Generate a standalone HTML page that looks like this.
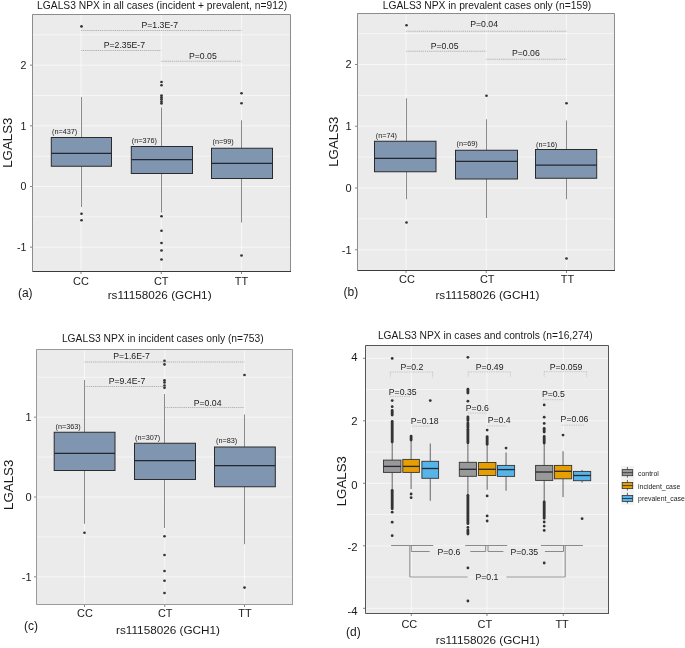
<!DOCTYPE html><html><head><meta charset="utf-8"><style>html,body{margin:0;padding:0;background:#fff;}svg{display:block;will-change:transform;}text{font-family:"Liberation Sans", sans-serif;}</style></head><body>
<svg width="685" height="648" viewBox="0 0 685 648">
<rect width="685" height="648" fill="#fff"/>
<rect x="32" y="14" width="258" height="257" fill="#EBEBEB"/>
<line x1="32" y1="216.84" x2="290" y2="216.84" stroke="#FFFFFF" stroke-width="1.0" stroke-opacity="0.55"/>
<line x1="32" y1="156.16" x2="290" y2="156.16" stroke="#FFFFFF" stroke-width="1.0" stroke-opacity="0.55"/>
<line x1="32" y1="95.5" x2="290" y2="95.5" stroke="#FFFFFF" stroke-width="1.0" stroke-opacity="0.55"/>
<line x1="32" y1="34.82" x2="290" y2="34.82" stroke="#FFFFFF" stroke-width="1.0" stroke-opacity="0.55"/>
<line x1="32" y1="247.17" x2="290" y2="247.17" stroke="#FFFFFF" stroke-width="1.0" stroke-opacity="0.6"/>
<line x1="32" y1="186.5" x2="290" y2="186.5" stroke="#FFFFFF" stroke-width="1.0" stroke-opacity="0.6"/>
<line x1="32" y1="125.83" x2="290" y2="125.83" stroke="#FFFFFF" stroke-width="1.0" stroke-opacity="0.6"/>
<line x1="32" y1="65.16" x2="290" y2="65.16" stroke="#FFFFFF" stroke-width="1.0" stroke-opacity="0.6"/>
<line x1="81" y1="14" x2="81" y2="271" stroke="#FFFFFF" stroke-width="1.0" stroke-opacity="0.6"/>
<line x1="161.25" y1="14" x2="161.25" y2="271" stroke="#FFFFFF" stroke-width="1.0" stroke-opacity="0.6"/>
<line x1="241.5" y1="14" x2="241.5" y2="271" stroke="#FFFFFF" stroke-width="1.0" stroke-opacity="0.6"/>
<line x1="32.5" y1="14.5" x2="290.5" y2="14.5" stroke="#8c8c8c" stroke-width="1" />
<line x1="32.5" y1="14.5" x2="32.5" y2="271.5" stroke="#8c8c8c" stroke-width="1" />
<line x1="290.5" y1="14.5" x2="290.5" y2="271.5" stroke="#8c8c8c" stroke-width="1" />
<line x1="32.5" y1="271.5" x2="291" y2="271.5" stroke="#3a3a3a" stroke-width="1" />
<line x1="30" y1="247.17" x2="32" y2="247.17" stroke="#666" stroke-width="0.8" />
<text x="26.3" y="251.07" font-size="10.6" text-anchor="end" fill="#1a1a1a" >-1</text>
<line x1="30" y1="186.5" x2="32" y2="186.5" stroke="#666" stroke-width="0.8" />
<text x="26.3" y="190.4" font-size="10.6" text-anchor="end" fill="#1a1a1a" >0</text>
<line x1="30" y1="125.83" x2="32" y2="125.83" stroke="#666" stroke-width="0.8" />
<text x="26.3" y="129.73" font-size="10.6" text-anchor="end" fill="#1a1a1a" >1</text>
<line x1="30" y1="65.16" x2="32" y2="65.16" stroke="#666" stroke-width="0.8" />
<text x="26.3" y="69.06" font-size="10.6" text-anchor="end" fill="#1a1a1a" >2</text>
<line x1="81" y1="272" x2="81" y2="274" stroke="#666" stroke-width="0.8" />
<line x1="161.25" y1="272" x2="161.25" y2="274" stroke="#666" stroke-width="0.8" />
<line x1="241.5" y1="272" x2="241.5" y2="274" stroke="#666" stroke-width="0.8" />
<line x1="81.5" y1="97" x2="81.5" y2="137.5" stroke="#8a8a8a" stroke-width="1.0" />
<line x1="81.5" y1="166.25" x2="81.5" y2="207" stroke="#8a8a8a" stroke-width="1.0" />
<rect x="51.3" y="137.5" width="60.2" height="28.75" fill="#8096B0" stroke="#2b2b2b" stroke-width="1"/>
<line x1="51.3" y1="153.25" x2="111.5" y2="153.25" stroke="#23272f" stroke-width="1.25" />
<circle cx="81.5" cy="26.4" r="1.35" fill="#333333"/>
<circle cx="81.5" cy="213.75" r="1.35" fill="#333333"/>
<circle cx="81.5" cy="220.25" r="1.35" fill="#333333"/>
<line x1="161.5" y1="107.5" x2="161.5" y2="146.5" stroke="#8a8a8a" stroke-width="1.0" />
<line x1="161.5" y1="173.5" x2="161.5" y2="212.5" stroke="#8a8a8a" stroke-width="1.0" />
<rect x="131.3" y="146.5" width="61.2" height="27" fill="#8096B0" stroke="#2b2b2b" stroke-width="1"/>
<line x1="131.3" y1="159.5" x2="192.5" y2="159.5" stroke="#23272f" stroke-width="1.25" />
<circle cx="161.5" cy="82" r="1.35" fill="#333333"/>
<circle cx="161.5" cy="85.25" r="1.35" fill="#333333"/>
<circle cx="161.5" cy="95.5" r="1.35" fill="#333333"/>
<circle cx="161.5" cy="97.4" r="1.35" fill="#333333"/>
<circle cx="161.5" cy="99.3" r="1.35" fill="#333333"/>
<circle cx="161.5" cy="101.5" r="1.35" fill="#333333"/>
<circle cx="161.5" cy="103.4" r="1.35" fill="#333333"/>
<circle cx="161.5" cy="216.25" r="1.35" fill="#333333"/>
<circle cx="161.5" cy="230.75" r="1.35" fill="#333333"/>
<circle cx="161.5" cy="243" r="1.35" fill="#333333"/>
<circle cx="161.5" cy="250.5" r="1.35" fill="#333333"/>
<circle cx="161.5" cy="259.5" r="1.35" fill="#333333"/>
<line x1="241.5" y1="120.25" x2="241.5" y2="148.25" stroke="#8a8a8a" stroke-width="1.0" />
<line x1="241.5" y1="178.5" x2="241.5" y2="222.5" stroke="#8a8a8a" stroke-width="1.0" />
<rect x="211.5" y="148.25" width="61" height="30.25" fill="#8096B0" stroke="#2b2b2b" stroke-width="1"/>
<line x1="211.5" y1="163.25" x2="272.5" y2="163.25" stroke="#23272f" stroke-width="1.25" />
<circle cx="241.5" cy="93.25" r="1.35" fill="#333333"/>
<circle cx="241.5" cy="103.25" r="1.35" fill="#333333"/>
<circle cx="241.5" cy="255.5" r="1.35" fill="#333333"/>
<line x1="81" y1="30.5" x2="241.5" y2="30.5" stroke="#adadad" stroke-width="0.9" stroke-dasharray="1.3 0.8"/>
<line x1="81" y1="50.5" x2="161.25" y2="50.5" stroke="#adadad" stroke-width="0.9" stroke-dasharray="1.3 0.8"/>
<line x1="161.25" y1="61.25" x2="241.5" y2="61.25" stroke="#adadad" stroke-width="0.9" stroke-dasharray="1.3 0.8"/>
<text x="141.5" y="27.5" font-size="8.7" text-anchor="start" fill="#1a1a1a" >P=1.3E-7</text>
<text x="103.75" y="47.5" font-size="8.7" text-anchor="start" fill="#1a1a1a" >P=2.35E-7</text>
<text x="189" y="58.5" font-size="8.7" text-anchor="start" fill="#1a1a1a" >P=0.05</text>
<text x="52" y="133.6" font-size="7.27" text-anchor="start" fill="#1a1a1a" >(n=437)</text>
<text x="131.75" y="142.7" font-size="7.27" text-anchor="start" fill="#1a1a1a" >(n=376)</text>
<text x="212.5" y="144.1" font-size="7.27" text-anchor="start" fill="#1a1a1a" >(n=99)</text>
<text x="162.1" y="8.8" font-size="10.27" text-anchor="middle" fill="#1a1a1a" >LGALS3 NPX in all cases (incident + prevalent, n=912)</text>
<text x="81" y="284.9" font-size="10.94" text-anchor="middle" fill="#1a1a1a" >CC</text>
<text x="161.25" y="284.9" font-size="10.94" text-anchor="middle" fill="#1a1a1a" >CT</text>
<text x="241.5" y="284.9" font-size="10.94" text-anchor="middle" fill="#1a1a1a" >TT</text>
<text x="159.6" y="298.9" font-size="11.74" text-anchor="middle" fill="#1a1a1a" >rs11158026 (GCH1)</text>
<text x="17.9" y="297.4" font-size="12" text-anchor="start" fill="#1a1a1a" >(a)</text>
<text x="12.1" y="142.7" font-size="13.3" text-anchor="middle" fill="#1a1a1a" transform="rotate(-90 12.1 142.7)">LGALS3</text>
<rect x="357" y="13" width="257" height="257" fill="#EBEBEB"/>
<line x1="357" y1="218.88" x2="614" y2="218.88" stroke="#FFFFFF" stroke-width="1.0" stroke-opacity="0.55"/>
<line x1="357" y1="157.12" x2="614" y2="157.12" stroke="#FFFFFF" stroke-width="1.0" stroke-opacity="0.55"/>
<line x1="357" y1="95.38" x2="614" y2="95.38" stroke="#FFFFFF" stroke-width="1.0" stroke-opacity="0.55"/>
<line x1="357" y1="33.62" x2="614" y2="33.62" stroke="#FFFFFF" stroke-width="1.0" stroke-opacity="0.55"/>
<line x1="357" y1="249.75" x2="614" y2="249.75" stroke="#FFFFFF" stroke-width="1.0" stroke-opacity="0.6"/>
<line x1="357" y1="188" x2="614" y2="188" stroke="#FFFFFF" stroke-width="1.0" stroke-opacity="0.6"/>
<line x1="357" y1="126.25" x2="614" y2="126.25" stroke="#FFFFFF" stroke-width="1.0" stroke-opacity="0.6"/>
<line x1="357" y1="64.5" x2="614" y2="64.5" stroke="#FFFFFF" stroke-width="1.0" stroke-opacity="0.6"/>
<line x1="406" y1="13" x2="406" y2="270" stroke="#FFFFFF" stroke-width="1.0" stroke-opacity="0.6"/>
<line x1="486.25" y1="13" x2="486.25" y2="270" stroke="#FFFFFF" stroke-width="1.0" stroke-opacity="0.6"/>
<line x1="566.5" y1="13" x2="566.5" y2="270" stroke="#FFFFFF" stroke-width="1.0" stroke-opacity="0.6"/>
<line x1="357.5" y1="13.5" x2="614.5" y2="13.5" stroke="#8c8c8c" stroke-width="1" />
<line x1="357.5" y1="13.5" x2="357.5" y2="270.5" stroke="#8c8c8c" stroke-width="1" />
<line x1="614.5" y1="13.5" x2="614.5" y2="270.5" stroke="#8c8c8c" stroke-width="1" />
<line x1="357.5" y1="270.5" x2="615" y2="270.5" stroke="#3a3a3a" stroke-width="1" />
<line x1="355" y1="249.75" x2="357" y2="249.75" stroke="#666" stroke-width="0.8" />
<text x="351.5" y="253.65" font-size="11" text-anchor="end" fill="#1a1a1a" >-1</text>
<line x1="355" y1="188" x2="357" y2="188" stroke="#666" stroke-width="0.8" />
<text x="351.5" y="191.9" font-size="11" text-anchor="end" fill="#1a1a1a" >0</text>
<line x1="355" y1="126.25" x2="357" y2="126.25" stroke="#666" stroke-width="0.8" />
<text x="351.5" y="130.15" font-size="11" text-anchor="end" fill="#1a1a1a" >1</text>
<line x1="355" y1="64.5" x2="357" y2="64.5" stroke="#666" stroke-width="0.8" />
<text x="351.5" y="68.4" font-size="11" text-anchor="end" fill="#1a1a1a" >2</text>
<line x1="406" y1="271" x2="406" y2="273" stroke="#666" stroke-width="0.8" />
<line x1="486.25" y1="271" x2="486.25" y2="273" stroke="#666" stroke-width="0.8" />
<line x1="566.5" y1="271" x2="566.5" y2="273" stroke="#666" stroke-width="0.8" />
<line x1="406.5" y1="98.25" x2="406.5" y2="141.25" stroke="#8a8a8a" stroke-width="1.0" />
<line x1="406.5" y1="171.75" x2="406.5" y2="199.25" stroke="#8a8a8a" stroke-width="1.0" />
<rect x="374.5" y="141.25" width="61.5" height="30.5" fill="#8096B0" stroke="#2b2b2b" stroke-width="1"/>
<line x1="374.5" y1="158.25" x2="436" y2="158.25" stroke="#23272f" stroke-width="1.25" />
<circle cx="406.5" cy="25.25" r="1.35" fill="#333333"/>
<circle cx="406.5" cy="222.5" r="1.35" fill="#333333"/>
<line x1="486.5" y1="119.25" x2="486.5" y2="150.25" stroke="#8a8a8a" stroke-width="1.0" />
<line x1="486.5" y1="179" x2="486.5" y2="218" stroke="#8a8a8a" stroke-width="1.0" />
<rect x="455.5" y="150.25" width="62" height="28.75" fill="#8096B0" stroke="#2b2b2b" stroke-width="1"/>
<line x1="455.5" y1="161.25" x2="517.5" y2="161.25" stroke="#23272f" stroke-width="1.25" />
<circle cx="486.5" cy="95.75" r="1.35" fill="#333333"/>
<line x1="566.5" y1="120.5" x2="566.5" y2="149.5" stroke="#8a8a8a" stroke-width="1.0" />
<line x1="566.5" y1="178.25" x2="566.5" y2="199.25" stroke="#8a8a8a" stroke-width="1.0" />
<rect x="535.5" y="149.5" width="61.2" height="28.75" fill="#8096B0" stroke="#2b2b2b" stroke-width="1"/>
<line x1="535.5" y1="165" x2="596.7" y2="165" stroke="#23272f" stroke-width="1.25" />
<circle cx="566.5" cy="103.25" r="1.35" fill="#333333"/>
<circle cx="566.5" cy="258.5" r="1.35" fill="#333333"/>
<line x1="406" y1="31.25" x2="566.5" y2="31.25" stroke="#adadad" stroke-width="0.9" stroke-dasharray="1.3 0.8"/>
<line x1="406" y1="51.25" x2="486.25" y2="51.25" stroke="#adadad" stroke-width="0.9" stroke-dasharray="1.3 0.8"/>
<line x1="486.25" y1="59.25" x2="566.5" y2="59.25" stroke="#adadad" stroke-width="0.9" stroke-dasharray="1.3 0.8"/>
<text x="470.25" y="27.2" font-size="8.7" text-anchor="start" fill="#1a1a1a" >P=0.04</text>
<text x="430.75" y="49.4" font-size="8.7" text-anchor="start" fill="#1a1a1a" >P=0.05</text>
<text x="512" y="56.4" font-size="8.7" text-anchor="start" fill="#1a1a1a" >P=0.06</text>
<text x="375.75" y="138.4" font-size="7.27" text-anchor="start" fill="#1a1a1a" >(n=74)</text>
<text x="456.5" y="146.1" font-size="7.27" text-anchor="start" fill="#1a1a1a" >(n=69)</text>
<text x="536" y="146.6" font-size="7.27" text-anchor="start" fill="#1a1a1a" >(n=16)</text>
<text x="487" y="8.9" font-size="10.27" text-anchor="middle" fill="#1a1a1a" >LGALS3 NPX in prevalent cases only (n=159)</text>
<text x="407" y="283.4" font-size="10.94" text-anchor="middle" fill="#1a1a1a" >CC</text>
<text x="487.25" y="283.4" font-size="10.94" text-anchor="middle" fill="#1a1a1a" >CT</text>
<text x="567.5" y="283.4" font-size="10.94" text-anchor="middle" fill="#1a1a1a" >TT</text>
<text x="487.4" y="299.3" font-size="11.74" text-anchor="middle" fill="#1a1a1a" >rs11158026 (GCH1)</text>
<text x="343.6" y="296" font-size="12" text-anchor="start" fill="#1a1a1a" >(b)</text>
<text x="337.8" y="141.7" font-size="13.3" text-anchor="middle" fill="#1a1a1a" transform="rotate(-90 337.8 141.7)">LGALS3</text>
<rect x="36" y="349" width="256" height="255" fill="#EBEBEB"/>
<line x1="36" y1="536.92" x2="292" y2="536.92" stroke="#FFFFFF" stroke-width="1.0" stroke-opacity="0.55"/>
<line x1="36" y1="457.07" x2="292" y2="457.07" stroke="#FFFFFF" stroke-width="1.0" stroke-opacity="0.55"/>
<line x1="36" y1="377.23" x2="292" y2="377.23" stroke="#FFFFFF" stroke-width="1.0" stroke-opacity="0.55"/>
<line x1="36" y1="576.85" x2="292" y2="576.85" stroke="#FFFFFF" stroke-width="1.0" stroke-opacity="0.6"/>
<line x1="36" y1="497" x2="292" y2="497" stroke="#FFFFFF" stroke-width="1.0" stroke-opacity="0.6"/>
<line x1="36" y1="417.15" x2="292" y2="417.15" stroke="#FFFFFF" stroke-width="1.0" stroke-opacity="0.6"/>
<line x1="84.5" y1="349" x2="84.5" y2="604" stroke="#FFFFFF" stroke-width="1.0" stroke-opacity="0.6"/>
<line x1="164.75" y1="349" x2="164.75" y2="604" stroke="#FFFFFF" stroke-width="1.0" stroke-opacity="0.6"/>
<line x1="244.5" y1="349" x2="244.5" y2="604" stroke="#FFFFFF" stroke-width="1.0" stroke-opacity="0.6"/>
<line x1="36.5" y1="349.5" x2="292.5" y2="349.5" stroke="#9a9a9a" stroke-width="1" />
<line x1="36.5" y1="349.5" x2="36.5" y2="604.5" stroke="#9a9a9a" stroke-width="1" />
<line x1="292.5" y1="349.5" x2="292.5" y2="604.5" stroke="#9a9a9a" stroke-width="1" />
<line x1="36.5" y1="604.5" x2="293" y2="604.5" stroke="#9a9a9a" stroke-width="1" />
<line x1="34" y1="576.85" x2="36" y2="576.85" stroke="#666" stroke-width="0.8" />
<text x="31.5" y="580.75" font-size="11" text-anchor="end" fill="#1a1a1a" >-1</text>
<line x1="34" y1="497" x2="36" y2="497" stroke="#666" stroke-width="0.8" />
<text x="31.5" y="500.9" font-size="11" text-anchor="end" fill="#1a1a1a" >0</text>
<line x1="34" y1="417.15" x2="36" y2="417.15" stroke="#666" stroke-width="0.8" />
<text x="31.5" y="421.05" font-size="11" text-anchor="end" fill="#1a1a1a" >1</text>
<line x1="84.5" y1="605" x2="84.5" y2="607" stroke="#666" stroke-width="0.8" />
<line x1="164.75" y1="605" x2="164.75" y2="607" stroke="#666" stroke-width="0.8" />
<line x1="244.5" y1="605" x2="244.5" y2="607" stroke="#666" stroke-width="0.8" />
<line x1="84.5" y1="380" x2="84.5" y2="432.25" stroke="#8a8a8a" stroke-width="1.0" />
<line x1="84.5" y1="470.5" x2="84.5" y2="523.75" stroke="#8a8a8a" stroke-width="1.0" />
<rect x="54.2" y="432.25" width="60.8" height="38.25" fill="#8096B0" stroke="#2b2b2b" stroke-width="1"/>
<line x1="54.2" y1="453.25" x2="115" y2="453.25" stroke="#23272f" stroke-width="1.25" />
<circle cx="84.5" cy="532.75" r="1.35" fill="#333333"/>
<line x1="164.5" y1="394" x2="164.5" y2="443.25" stroke="#8a8a8a" stroke-width="1.0" />
<line x1="164.5" y1="479.5" x2="164.5" y2="528" stroke="#8a8a8a" stroke-width="1.0" />
<rect x="134.5" y="443.25" width="61" height="36.25" fill="#8096B0" stroke="#2b2b2b" stroke-width="1"/>
<line x1="134.5" y1="460.5" x2="195.5" y2="460.5" stroke="#23272f" stroke-width="1.25" />
<circle cx="164.5" cy="360.9" r="1.35" fill="#333333"/>
<circle cx="164.5" cy="364.4" r="1.35" fill="#333333"/>
<circle cx="164.5" cy="380.4" r="1.35" fill="#333333"/>
<circle cx="164.5" cy="382.5" r="1.35" fill="#333333"/>
<circle cx="164.5" cy="385.7" r="1.35" fill="#333333"/>
<circle cx="164.5" cy="387.8" r="1.35" fill="#333333"/>
<circle cx="164.5" cy="536.25" r="1.35" fill="#333333"/>
<circle cx="164.5" cy="555" r="1.35" fill="#333333"/>
<circle cx="164.5" cy="571" r="1.35" fill="#333333"/>
<circle cx="164.5" cy="580.75" r="1.35" fill="#333333"/>
<circle cx="164.5" cy="593" r="1.35" fill="#333333"/>
<line x1="244.5" y1="414.5" x2="244.5" y2="447" stroke="#8a8a8a" stroke-width="1.0" />
<line x1="244.5" y1="486.75" x2="244.5" y2="544.2" stroke="#8a8a8a" stroke-width="1.0" />
<rect x="214.5" y="447" width="60.8" height="39.75" fill="#8096B0" stroke="#2b2b2b" stroke-width="1"/>
<line x1="214.5" y1="465.5" x2="275.3" y2="465.5" stroke="#23272f" stroke-width="1.25" />
<circle cx="244.5" cy="375" r="1.35" fill="#333333"/>
<circle cx="244.5" cy="587.6" r="1.35" fill="#333333"/>
<line x1="84.5" y1="362" x2="244.5" y2="362" stroke="#adadad" stroke-width="0.9" stroke-dasharray="1.3 0.8"/>
<line x1="84.5" y1="386.5" x2="164.75" y2="386.5" stroke="#adadad" stroke-width="0.9" stroke-dasharray="1.3 0.8"/>
<line x1="164.75" y1="407.5" x2="244.5" y2="407.5" stroke="#adadad" stroke-width="0.9" stroke-dasharray="1.3 0.8"/>
<text x="113.25" y="359.4" font-size="8.7" text-anchor="start" fill="#1a1a1a" >P=1.6E-7</text>
<text x="108.75" y="384.4" font-size="8.7" text-anchor="start" fill="#1a1a1a" >P=9.4E-7</text>
<text x="193.75" y="405.6" font-size="8.7" text-anchor="start" fill="#1a1a1a" >P=0.04</text>
<text x="55.5" y="428.7" font-size="7.27" text-anchor="start" fill="#1a1a1a" >(n=363)</text>
<text x="135" y="439.7" font-size="7.27" text-anchor="start" fill="#1a1a1a" >(n=307)</text>
<text x="216" y="443.4" font-size="7.27" text-anchor="start" fill="#1a1a1a" >(n=83)</text>
<text x="162.75" y="342" font-size="10.27" text-anchor="middle" fill="#1a1a1a" >LGALS3 NPX in incident cases only (n=753)</text>
<text x="85" y="617" font-size="10.94" text-anchor="middle" fill="#1a1a1a" >CC</text>
<text x="165.25" y="617" font-size="10.94" text-anchor="middle" fill="#1a1a1a" >CT</text>
<text x="245" y="617" font-size="10.94" text-anchor="middle" fill="#1a1a1a" >TT</text>
<text x="168" y="634" font-size="11.74" text-anchor="middle" fill="#1a1a1a" >rs11158026 (GCH1)</text>
<text x="24" y="630.2" font-size="12" text-anchor="start" fill="#1a1a1a" >(c)</text>
<text x="12.7" y="484.8" font-size="13.3" text-anchor="middle" fill="#1a1a1a" transform="rotate(-90 12.7 484.8)">LGALS3</text>
<rect x="365" y="345" width="243" height="268" fill="#EBEBEB"/>
<line x1="365" y1="577.05" x2="608" y2="577.05" stroke="#FFFFFF" stroke-width="1.0" stroke-opacity="0.55"/>
<line x1="365" y1="514.55" x2="608" y2="514.55" stroke="#FFFFFF" stroke-width="1.0" stroke-opacity="0.55"/>
<line x1="365" y1="452.05" x2="608" y2="452.05" stroke="#FFFFFF" stroke-width="1.0" stroke-opacity="0.55"/>
<line x1="365" y1="389.55" x2="608" y2="389.55" stroke="#FFFFFF" stroke-width="1.0" stroke-opacity="0.55"/>
<line x1="365" y1="608.3" x2="608" y2="608.3" stroke="#FFFFFF" stroke-width="1.0" stroke-opacity="0.6"/>
<line x1="365" y1="545.8" x2="608" y2="545.8" stroke="#FFFFFF" stroke-width="1.0" stroke-opacity="0.6"/>
<line x1="365" y1="483.3" x2="608" y2="483.3" stroke="#FFFFFF" stroke-width="1.0" stroke-opacity="0.6"/>
<line x1="365" y1="420.8" x2="608" y2="420.8" stroke="#FFFFFF" stroke-width="1.0" stroke-opacity="0.6"/>
<line x1="365" y1="358.3" x2="608" y2="358.3" stroke="#FFFFFF" stroke-width="1.0" stroke-opacity="0.6"/>
<line x1="411.3" y1="345" x2="411.3" y2="613" stroke="#FFFFFF" stroke-width="1.0" stroke-opacity="0.6"/>
<line x1="487" y1="345" x2="487" y2="613" stroke="#FFFFFF" stroke-width="1.0" stroke-opacity="0.6"/>
<line x1="563.3" y1="345" x2="563.3" y2="613" stroke="#FFFFFF" stroke-width="1.0" stroke-opacity="0.6"/>
<line x1="365.5" y1="345.5" x2="608.5" y2="345.5" stroke="#555555" stroke-width="1" />
<line x1="365.5" y1="345.5" x2="365.5" y2="613.5" stroke="#555555" stroke-width="1" />
<line x1="608.5" y1="345.5" x2="608.5" y2="613.5" stroke="#555555" stroke-width="1" />
<line x1="365.5" y1="613.5" x2="609" y2="613.5" stroke="#555555" stroke-width="1" />
<line x1="363" y1="608.3" x2="365" y2="608.3" stroke="#666" stroke-width="0.8" />
<text x="357.5" y="615.25" font-size="11.3" text-anchor="end" fill="#1a1a1a" >-4</text>
<line x1="363" y1="545.8" x2="365" y2="545.8" stroke="#666" stroke-width="0.8" />
<text x="357.5" y="551.4" font-size="11.3" text-anchor="end" fill="#1a1a1a" >-2</text>
<line x1="363" y1="483.3" x2="365" y2="483.3" stroke="#666" stroke-width="0.8" />
<text x="357.5" y="488.5" font-size="11.3" text-anchor="end" fill="#1a1a1a" >0</text>
<line x1="363" y1="420.8" x2="365" y2="420.8" stroke="#666" stroke-width="0.8" />
<text x="357.5" y="424.9" font-size="11.3" text-anchor="end" fill="#1a1a1a" >2</text>
<line x1="363" y1="358.3" x2="365" y2="358.3" stroke="#666" stroke-width="0.8" />
<text x="357.5" y="361.3" font-size="11.3" text-anchor="end" fill="#1a1a1a" >4</text>
<line x1="411.3" y1="614" x2="411.3" y2="616" stroke="#666" stroke-width="0.8" />
<line x1="487" y1="614" x2="487" y2="616" stroke="#666" stroke-width="0.8" />
<line x1="563.3" y1="614" x2="563.3" y2="616" stroke="#666" stroke-width="0.8" />
<line x1="392.2" y1="441.9" x2="392.2" y2="460.1" stroke="#555" stroke-width="0.9" />
<line x1="392.2" y1="472.4" x2="392.2" y2="489.1" stroke="#555" stroke-width="0.9" />
<rect x="383.45" y="460.1" width="17.5" height="12.3" fill="#999999" stroke="#333333" stroke-width="0.9"/>
<line x1="383.45" y1="466.4" x2="400.95" y2="466.4" stroke="#23272f" stroke-width="1.3" />
<circle cx="392.2" cy="358.4" r="1.4" fill="#333333"/>
<circle cx="392.2" cy="400.6" r="1.4" fill="#333333"/>
<circle cx="392.2" cy="406.7" r="1.4" fill="#333333"/>
<rect x="390.8" y="409" width="2.8" height="7.4" rx="1.4" ry="1.4" fill="#333333"/>
<rect x="390.8" y="420.1" width="2.8" height="23.2" rx="1.4" ry="1.4" fill="#333333"/>
<rect x="390.8" y="488.9" width="2.8" height="21.3" rx="1.4" ry="1.4" fill="#333333"/>
<circle cx="392.2" cy="512.2" r="1.4" fill="#333333"/>
<circle cx="392.2" cy="522.2" r="1.4" fill="#333333"/>
<circle cx="392.2" cy="535.7" r="1.4" fill="#333333"/>
<line x1="411.1" y1="440" x2="411.1" y2="459.4" stroke="#555" stroke-width="0.9" />
<line x1="411.1" y1="472.4" x2="411.1" y2="489" stroke="#555" stroke-width="0.9" />
<rect x="402.8" y="459.4" width="16.6" height="13" fill="#E69F00" stroke="#333333" stroke-width="0.9"/>
<line x1="402.8" y1="466.4" x2="419.4" y2="466.4" stroke="#23272f" stroke-width="1.3" />
<rect x="409.7" y="434.7" width="2.8" height="6.7" rx="1.4" ry="1.4" fill="#333333"/>
<circle cx="411.1" cy="494" r="1.4" fill="#333333"/>
<circle cx="411.1" cy="497.7" r="1.4" fill="#333333"/>
<line x1="430.25" y1="443.5" x2="430.25" y2="461.3" stroke="#555" stroke-width="0.9" />
<line x1="430.25" y1="478.3" x2="430.25" y2="500.8" stroke="#555" stroke-width="0.9" />
<rect x="421.9" y="461.3" width="16.7" height="17" fill="#56B4E9" stroke="#333333" stroke-width="0.9"/>
<line x1="421.9" y1="468.5" x2="438.6" y2="468.5" stroke="#23272f" stroke-width="1.3" />
<circle cx="430.25" cy="400.6" r="1.4" fill="#333333"/>
<line x1="467.9" y1="442.8" x2="467.9" y2="462.3" stroke="#555" stroke-width="0.9" />
<line x1="467.9" y1="476.3" x2="467.9" y2="494.7" stroke="#555" stroke-width="0.9" />
<rect x="459.3" y="462.3" width="17.2" height="14" fill="#999999" stroke="#333333" stroke-width="0.9"/>
<line x1="459.3" y1="469.3" x2="476.5" y2="469.3" stroke="#23272f" stroke-width="1.3" />
<circle cx="467.9" cy="357.3" r="1.4" fill="#333333"/>
<rect x="466.5" y="387.8" width="2.8" height="6.7" rx="1.4" ry="1.4" fill="#333333"/>
<circle cx="467.9" cy="401.2" r="1.4" fill="#333333"/>
<rect x="466.5" y="415.5" width="2.8" height="6.5" rx="1.4" ry="1.4" fill="#333333"/>
<rect x="466.5" y="421.6" width="2.8" height="7.1" rx="1.4" ry="1.4" fill="#333333"/>
<rect x="466.5" y="427.8" width="2.8" height="16.4" rx="1.4" ry="1.4" fill="#333333"/>
<rect x="466.5" y="493.9" width="2.8" height="31.2" rx="1.4" ry="1.4" fill="#333333"/>
<circle cx="467.9" cy="527.4" r="1.4" fill="#333333"/>
<rect x="466.5" y="528.5" width="2.8" height="6.9" rx="1.4" ry="1.4" fill="#333333"/>
<circle cx="467.9" cy="567.9" r="1.4" fill="#333333"/>
<circle cx="467.9" cy="601" r="1.4" fill="#333333"/>
<line x1="487.15" y1="444.3" x2="487.15" y2="462.5" stroke="#555" stroke-width="0.9" />
<line x1="487.15" y1="475.5" x2="487.15" y2="489.8" stroke="#555" stroke-width="0.9" />
<rect x="478.4" y="462.5" width="17.5" height="13" fill="#E69F00" stroke="#333333" stroke-width="0.9"/>
<line x1="478.4" y1="469.3" x2="495.9" y2="469.3" stroke="#23272f" stroke-width="1.3" />
<circle cx="487.15" cy="430.1" r="1.4" fill="#333333"/>
<rect x="485.75" y="435.2" width="2.8" height="10.5" rx="1.4" ry="1.4" fill="#333333"/>
<circle cx="487.15" cy="495.9" r="1.4" fill="#333333"/>
<circle cx="487.15" cy="515.9" r="1.4" fill="#333333"/>
<circle cx="487.15" cy="521" r="1.4" fill="#333333"/>
<line x1="506.05" y1="452.4" x2="506.05" y2="465.4" stroke="#555" stroke-width="0.9" />
<line x1="506.05" y1="476.4" x2="506.05" y2="490.7" stroke="#555" stroke-width="0.9" />
<rect x="497.5" y="465.4" width="17.1" height="11" fill="#56B4E9" stroke="#333333" stroke-width="0.9"/>
<line x1="497.5" y1="469.6" x2="514.6" y2="469.6" stroke="#23272f" stroke-width="1.3" />
<circle cx="506.05" cy="448.1" r="1.4" fill="#333333"/>
<line x1="544.2" y1="443.1" x2="544.2" y2="465.4" stroke="#555" stroke-width="0.9" />
<line x1="544.2" y1="480.4" x2="544.2" y2="501.4" stroke="#555" stroke-width="0.9" />
<rect x="535.6" y="465.4" width="17.2" height="15" fill="#999999" stroke="#333333" stroke-width="0.9"/>
<line x1="535.6" y1="472" x2="552.8" y2="472" stroke="#23272f" stroke-width="1.3" />
<circle cx="544.2" cy="404.9" r="1.4" fill="#333333"/>
<circle cx="544.2" cy="417.2" r="1.4" fill="#333333"/>
<circle cx="544.2" cy="423.4" r="1.4" fill="#333333"/>
<rect x="542.8" y="426.9" width="2.8" height="6.5" rx="1.4" ry="1.4" fill="#333333"/>
<rect x="542.8" y="435" width="2.8" height="9.5" rx="1.4" ry="1.4" fill="#333333"/>
<rect x="542.8" y="500.4" width="2.8" height="19.3" rx="1.4" ry="1.4" fill="#333333"/>
<circle cx="544.2" cy="522" r="1.4" fill="#333333"/>
<circle cx="544.2" cy="526.1" r="1.4" fill="#333333"/>
<circle cx="544.2" cy="530.4" r="1.4" fill="#333333"/>
<circle cx="544.2" cy="563" r="1.4" fill="#333333"/>
<line x1="563.05" y1="451.2" x2="563.05" y2="465.4" stroke="#555" stroke-width="0.9" />
<line x1="563.05" y1="478.8" x2="563.05" y2="497.1" stroke="#555" stroke-width="0.9" />
<rect x="554.4" y="465.4" width="17.3" height="13.4" fill="#E69F00" stroke="#333333" stroke-width="0.9"/>
<line x1="554.4" y1="471.3" x2="571.7" y2="471.3" stroke="#23272f" stroke-width="1.3" />
<circle cx="563.05" cy="435.1" r="1.4" fill="#333333"/>
<line x1="582.1" y1="469.9" x2="582.1" y2="471.4" stroke="#555" stroke-width="0.9" />
<line x1="582.1" y1="480.7" x2="582.1" y2="482.7" stroke="#555" stroke-width="0.9" />
<rect x="573.5" y="471.4" width="17.2" height="9.3" fill="#56B4E9" stroke="#333333" stroke-width="0.9"/>
<line x1="573.5" y1="475.5" x2="590.7" y2="475.5" stroke="#23272f" stroke-width="1.3" />
<circle cx="582.1" cy="518.7" r="1.4" fill="#333333"/>
<line x1="390.3" y1="372" x2="432.6" y2="372" stroke="#bdbdbd" stroke-width="0.8" stroke-dasharray="1.3 1.0"/>
<line x1="390.3" y1="372" x2="390.3" y2="377.5" stroke="#bdbdbd" stroke-width="0.8" stroke-dasharray="1.3 1.0"/>
<line x1="432.6" y1="372" x2="432.6" y2="377.5" stroke="#bdbdbd" stroke-width="0.8" stroke-dasharray="1.3 1.0"/>
<line x1="468.3" y1="371.9" x2="510.5" y2="371.9" stroke="#bdbdbd" stroke-width="0.8" stroke-dasharray="1.3 1.0"/>
<line x1="468.3" y1="371.9" x2="468.3" y2="376.9" stroke="#bdbdbd" stroke-width="0.8" stroke-dasharray="1.3 1.0"/>
<line x1="510.5" y1="371.9" x2="510.5" y2="376.9" stroke="#bdbdbd" stroke-width="0.8" stroke-dasharray="1.3 1.0"/>
<line x1="544.2" y1="371.7" x2="586.6" y2="371.7" stroke="#bdbdbd" stroke-width="0.8" stroke-dasharray="1.3 1.0"/>
<line x1="544.2" y1="371.7" x2="544.2" y2="376.8" stroke="#bdbdbd" stroke-width="0.8" stroke-dasharray="1.3 1.0"/>
<line x1="586.6" y1="371.7" x2="586.6" y2="376.8" stroke="#bdbdbd" stroke-width="0.8" stroke-dasharray="1.3 1.0"/>
<line x1="390.3" y1="396.5" x2="411.5" y2="396.5" stroke="#bdbdbd" stroke-width="0.8" stroke-dasharray="1.3 1.0"/>
<line x1="411.5" y1="426.2" x2="430.3" y2="426.2" stroke="#bdbdbd" stroke-width="0.8" stroke-dasharray="1.3 1.0"/>
<line x1="468" y1="413.1" x2="487" y2="413.1" stroke="#bdbdbd" stroke-width="0.8" stroke-dasharray="1.3 1.0"/>
<line x1="487" y1="425.9" x2="506" y2="425.9" stroke="#bdbdbd" stroke-width="0.8" stroke-dasharray="1.3 1.0"/>
<line x1="543" y1="399.7" x2="563" y2="399.7" stroke="#bdbdbd" stroke-width="0.8" stroke-dasharray="1.3 1.0"/>
<line x1="562" y1="425.2" x2="584.3" y2="425.2" stroke="#bdbdbd" stroke-width="0.8" stroke-dasharray="1.3 1.0"/>
<text x="400.4" y="370.4" font-size="8.7" text-anchor="start" fill="#1a1a1a" >P=0.2</text>
<text x="388.8" y="395" font-size="8.7" text-anchor="start" fill="#1a1a1a" >P=0.35</text>
<text x="410.8" y="423.6" font-size="8.7" text-anchor="start" fill="#1a1a1a" >P=0.18</text>
<text x="475.7" y="370" font-size="8.7" text-anchor="start" fill="#1a1a1a" >P=0.49</text>
<text x="465.8" y="411" font-size="8.7" text-anchor="start" fill="#1a1a1a" >P=0.6</text>
<text x="487.7" y="423.4" font-size="8.7" text-anchor="start" fill="#1a1a1a" >P=0.4</text>
<text x="549.7" y="369.8" font-size="8.7" text-anchor="start" fill="#1a1a1a" >P=0.059</text>
<text x="541.9" y="396.8" font-size="8.7" text-anchor="start" fill="#1a1a1a" >P=0.5</text>
<text x="560.6" y="422.4" font-size="8.7" text-anchor="start" fill="#1a1a1a" >P=0.06</text>
<line x1="391.1" y1="545.5" x2="433.2" y2="545.5" stroke="#8a8a8a" stroke-width="1" />
<line x1="465.2" y1="545.5" x2="507.3" y2="545.5" stroke="#8a8a8a" stroke-width="1" />
<line x1="540.9" y1="545.5" x2="582.9" y2="545.5" stroke="#8a8a8a" stroke-width="1" />
<line x1="411.3" y1="545.5" x2="411.3" y2="551.5" stroke="#8a8a8a" stroke-width="1" />
<line x1="411.3" y1="551.5" x2="429.7" y2="551.5" stroke="#8a8a8a" stroke-width="1" />
<line x1="470.3" y1="551.5" x2="485.7" y2="551.5" stroke="#8a8a8a" stroke-width="1" />
<line x1="485.7" y1="545.5" x2="485.7" y2="551.5" stroke="#8a8a8a" stroke-width="1" />
<text x="437.5" y="555.4" font-size="8.7" text-anchor="start" fill="#1a1a1a" >P=0.6</text>
<line x1="488" y1="545.5" x2="488" y2="551.5" stroke="#8a8a8a" stroke-width="1" />
<line x1="488" y1="551.5" x2="503.4" y2="551.5" stroke="#8a8a8a" stroke-width="1" />
<line x1="544.9" y1="551.5" x2="563.5" y2="551.5" stroke="#8a8a8a" stroke-width="1" />
<line x1="563.5" y1="545.5" x2="563.5" y2="551.5" stroke="#8a8a8a" stroke-width="1" />
<text x="510.4" y="555.4" font-size="8.7" text-anchor="start" fill="#1a1a1a" >P=0.35</text>
<line x1="409.8" y1="545.5" x2="409.8" y2="577" stroke="#999" stroke-width="1.2" />
<line x1="409.8" y1="577" x2="467.7" y2="577" stroke="#999" stroke-width="1.2" />
<line x1="506.4" y1="577" x2="565.2" y2="577" stroke="#999" stroke-width="1.2" />
<line x1="565.2" y1="545.5" x2="565.2" y2="577" stroke="#999" stroke-width="1.2" />
<text x="475.5" y="580.1" font-size="8.7" text-anchor="start" fill="#1a1a1a" >P=0.1</text>
<text x="485.35" y="338.7" font-size="10.27" text-anchor="middle" fill="#1a1a1a" >LGALS3 NPX in cases and controls (n=16,274)</text>
<text x="409.3" y="628.4" font-size="10.94" text-anchor="middle" fill="#1a1a1a" >CC</text>
<text x="484.9" y="628.4" font-size="10.94" text-anchor="middle" fill="#1a1a1a" >CT</text>
<text x="562.1" y="628.4" font-size="10.94" text-anchor="middle" fill="#1a1a1a" >TT</text>
<text x="487.8" y="643.8" font-size="11.74" text-anchor="middle" fill="#1a1a1a" >rs11158026 (GCH1)</text>
<text x="346.1" y="635.7" font-size="12" text-anchor="start" fill="#1a1a1a" >(d)</text>
<text x="345.7" y="481.2" font-size="13.3" text-anchor="middle" fill="#1a1a1a" transform="rotate(-90 345.7 481.2)">LGALS3</text>
<rect x="621" y="466" width="13" height="38.7" fill="#F2F2F2"/>
<line x1="627.4" y1="467" x2="627.4" y2="477.6" stroke="#444" stroke-width="0.8" />
<rect x="622.2" y="469.6" width="10.5" height="6.1" fill="#999999" stroke="#333" stroke-width="0.8"/>
<line x1="622.2" y1="472.7" x2="632.7" y2="472.7" stroke="#333" stroke-width="0.9" />
<line x1="627.4" y1="479.9" x2="627.4" y2="490.5" stroke="#444" stroke-width="0.8" />
<rect x="622.2" y="482.5" width="10.5" height="6.1" fill="#E69F00" stroke="#333" stroke-width="0.8"/>
<line x1="622.2" y1="485.6" x2="632.7" y2="485.6" stroke="#333" stroke-width="0.9" />
<line x1="627.4" y1="492.8" x2="627.4" y2="503.4" stroke="#444" stroke-width="0.8" />
<rect x="622.2" y="495.4" width="10.5" height="6.1" fill="#56B4E9" stroke="#333" stroke-width="0.8"/>
<line x1="622.2" y1="498.5" x2="632.7" y2="498.5" stroke="#333" stroke-width="0.9" />
<text x="638.1" y="475.6" font-size="6.9" text-anchor="start" fill="#222" >control</text>
<text x="638.1" y="488.5" font-size="6.9" text-anchor="start" fill="#222" >incident_case</text>
<text x="638.1" y="501.4" font-size="6.9" text-anchor="start" fill="#222" >prevalent_case</text>
</svg></body></html>
